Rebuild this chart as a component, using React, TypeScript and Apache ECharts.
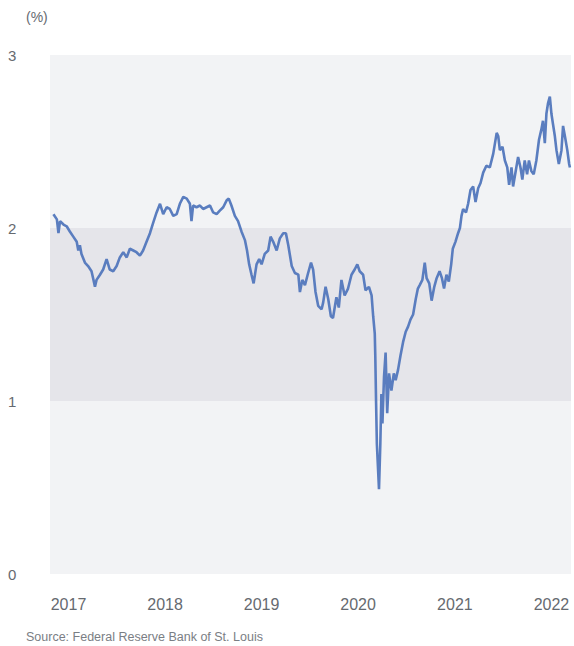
import React, { useEffect, useRef } from "react";
import * as echarts from "echarts";

const dates: string[] = [
  "2016-11-05","2016-11-18","2016-11-24","2016-11-30","2016-12-13","2016-12-25",
  "2017-01-06","2017-01-19","2017-02-01","2017-02-07","2017-02-13","2017-02-19","2017-03-04","2017-03-16","2017-03-29","2017-04-04","2017-04-11","2017-04-17","2017-04-30","2017-05-12","2017-05-25","2017-06-06","2017-06-19","2017-07-02","2017-07-14","2017-07-27","2017-08-09","2017-08-21","2017-09-03","2017-09-15","2017-09-28","2017-10-10","2017-10-23","2017-11-05","2017-11-17","2017-11-30","2017-12-13","2017-12-25",
  "2018-01-07","2018-01-19","2018-02-01","2018-02-14","2018-02-26","2018-03-11","2018-03-24","2018-04-05","2018-04-11","2018-04-17","2018-04-30","2018-05-13","2018-05-25","2018-06-07","2018-06-20","2018-07-02","2018-07-15","2018-07-27","2018-08-09","2018-08-22","2018-08-30","2018-09-09","2018-09-22","2018-10-04","2018-10-17","2018-10-30","2018-11-07","2018-11-15","2018-11-24","2018-12-02","2018-12-13","2018-12-23",
  "2019-01-01","2019-01-13","2019-01-26","2019-02-04","2019-02-14","2019-02-27","2019-03-11","2019-03-24","2019-04-03","2019-04-12","2019-04-25","2019-05-07","2019-05-20","2019-05-26","2019-06-04","2019-06-14","2019-06-26","2019-07-07","2019-07-15","2019-07-24","2019-08-03","2019-08-16","2019-08-22","2019-08-31","2019-09-10","2019-09-20","2019-09-28","2019-10-11","2019-10-20","2019-10-30","2019-11-11","2019-11-24","2019-12-07","2019-12-19","2019-12-29",
  "2020-01-07","2020-01-20","2020-01-29","2020-02-11","2020-02-21","2020-02-27","2020-03-04","2020-03-06","2020-03-09","2020-03-12","2020-03-16","2020-03-20","2020-03-25","2020-03-29","2020-04-02","2020-04-08","2020-04-14","2020-04-20","2020-04-27","2020-05-06","2020-05-15","2020-05-22","2020-05-31","2020-06-09","2020-06-19","2020-06-29","2020-07-08","2020-07-17","2020-07-27","2020-08-06","2020-08-14","2020-08-21","2020-08-31","2020-09-09","2020-09-16","2020-09-26","2020-10-05","2020-10-15","2020-10-24","2020-11-04","2020-11-13","2020-11-21","2020-11-30","2020-12-09","2020-12-18","2020-12-24",
  "2021-01-03","2021-01-13","2021-01-20","2021-01-26","2021-02-01","2021-02-12","2021-02-20","2021-03-01","2021-03-11","2021-03-20","2021-03-30","2021-04-08","2021-04-18","2021-04-30","2021-05-13","2021-05-26","2021-06-08","2021-06-14","2021-06-20","2021-06-30","2021-07-09","2021-07-18","2021-07-25","2021-08-03","2021-08-09","2021-08-19","2021-08-28","2021-09-06","2021-09-13","2021-09-22","2021-10-01","2021-10-08","2021-10-17","2021-10-26","2021-11-05","2021-11-15","2021-11-24","2021-11-30","2021-12-07","2021-12-13","2021-12-19","2021-12-26",
  "2022-01-01","2022-01-07","2022-01-14","2022-01-20","2022-01-29","2022-02-08","2022-02-14","2022-02-21","2022-03-02","2022-03-09","2022-03-12"
];

const values: number[] = [
  2.08,2.05,1.97,2.04,2.02,2.01,
  1.98,1.95,1.92,1.87,1.90,1.85,1.80,1.78,1.75,1.71,1.66,1.70,1.73,1.76,1.82,1.76,1.75,1.78,1.83,1.86,1.83,1.88,1.87,1.86,1.84,1.87,1.92,1.97,2.03,2.09,2.14,2.08,
  2.12,2.11,2.07,2.08,2.14,2.18,2.17,2.14,2.04,2.13,2.12,2.13,2.11,2.12,2.13,2.09,2.08,2.10,2.12,2.16,2.17,2.13,2.07,2.04,1.98,1.93,1.87,1.79,1.73,1.68,1.79,1.82,
  1.79,1.85,1.87,1.95,1.92,1.87,1.94,1.97,1.97,1.90,1.78,1.74,1.73,1.63,1.70,1.67,1.74,1.80,1.76,1.63,1.55,1.53,1.57,1.66,1.59,1.49,1.48,1.60,1.54,1.70,1.61,1.65,1.73,1.76,1.79,
  1.75,1.73,1.64,1.66,1.61,1.49,1.39,1.26,0.99,0.75,0.62,0.49,0.75,1.04,0.87,1.14,1.28,0.93,1.16,1.06,1.16,1.12,1.18,1.26,1.34,1.40,1.43,1.47,1.50,1.59,1.65,1.67,1.70,1.80,1.71,1.68,1.58,1.66,1.71,1.75,1.71,1.65,1.73,1.69,1.79,1.88,
  1.92,1.97,2.00,2.07,2.11,2.09,2.14,2.22,2.24,2.15,2.23,2.26,2.32,2.36,2.35,2.43,2.55,2.53,2.45,2.47,2.39,2.35,2.25,2.35,2.24,2.33,2.41,2.35,2.28,2.39,2.31,2.39,2.33,2.31,2.39,2.51,2.57,2.62,2.49,2.66,2.72,2.76,
  2.66,2.60,2.53,2.45,2.37,2.45,2.59,2.53,2.45,2.37,2.35
];

const yTicks: number[] = [0, 1, 2, 3];
const bandRange: [number, number] = [1, 2];
const xMin = "2016-10-23";
const xMax = "2022-03-16";
const unitLabel = "(%)";
const sourceLabel = "Source: Federal Reserve Bank of St. Louis";

export default function App() {
  const ref = useRef<HTMLDivElement>(null);
  useEffect(() => {
    document.body.style.margin = "0";
    if (!ref.current) return;
    const chart = echarts.init(ref.current, null, { renderer: "svg" });
    const font = "Liberation Sans, Arial, sans-serif";
    chart.setOption({
      animation: false,
      grid: {
        left: 50,
        right: 3,
        top: 55,
        height: 519,
        show: true,
        backgroundColor: "#f2f3f5",
        borderWidth: 0,
      },
      xAxis: {
        type: "time",
        min: xMin,
        max: xMax,
        splitNumber: 5,
        axisLine: { show: false },
        axisTick: { show: false },
        splitLine: { show: false },
        axisLabel: {
          margin: 22,
          color: "#666a70",
          fontSize: 16,
          fontFamily: font,
          formatter: (val: number) => {
            const d = new Date(val);
            return d.getMonth() === 0 && d.getDate() === 1 ? String(d.getFullYear()) : "";
          },
        },
      },
      yAxis: {
        type: "value",
        min: yTicks[0],
        max: yTicks[yTicks.length - 1],
        interval: 1,
        axisLine: { show: false },
        axisTick: { show: false },
        splitLine: { show: false },
        axisLabel: {
          align: "left",
          margin: 42,
          color: "#666a70",
          fontSize: 15,
          fontFamily: font,
          padding: [4, 0, 0, 0],
        },
      },
      series: [
        {
          type: "line",
          data: dates.map((d, i) => [d, values[i]]),
          showSymbol: false,
          symbol: "none",
          z: 3,
          lineStyle: { color: "#5a7dbf", width: 2.6 },
          markArea: {
            silent: true,
            itemStyle: { color: "#e5e5ea" },
            data: [[{ yAxis: bandRange[0] }, { yAxis: bandRange[1] }]],
          },
        },
      ],
      graphic: [
        {
          type: "text",
          left: 26,
          top: 10,
          style: { text: unitLabel, fill: "#666a70", fontSize: 14, fontFamily: font },
        },
        {
          type: "text",
          left: 26,
          top: 630,
          style: { text: sourceLabel, fill: "#7a7e84", fontSize: 12.5, fontFamily: font },
        },
      ],
    });
    return () => chart.dispose();
  }, []);
  return <div ref={ref} style={{ width: 574, height: 646 }} />;
}
